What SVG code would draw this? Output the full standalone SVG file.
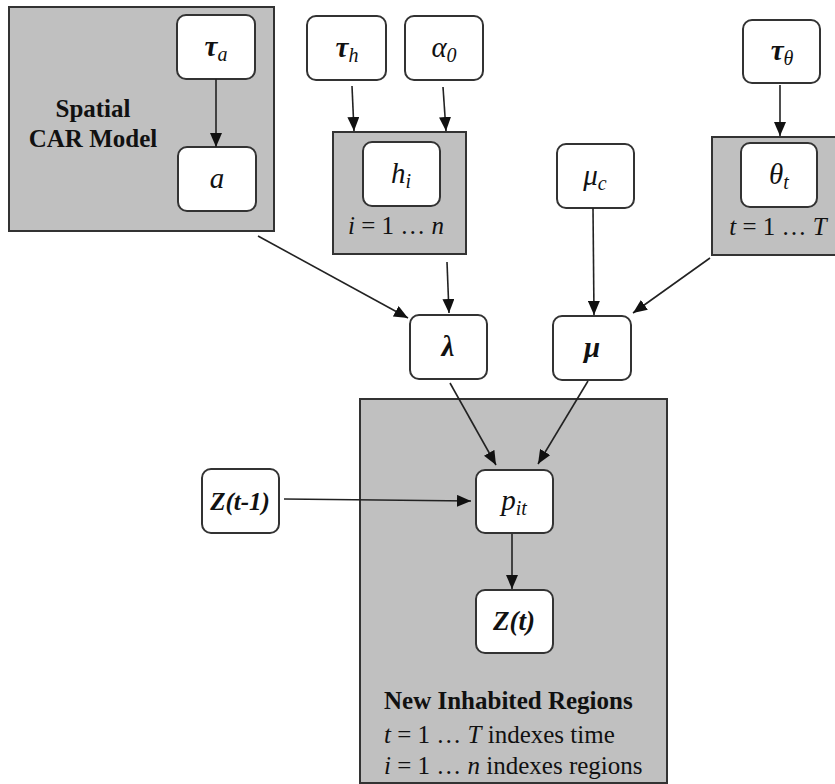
<svg xmlns="http://www.w3.org/2000/svg" width="835" height="784" viewBox="0 0 835 784" font-family="'Liberation Serif', 'DejaVu Serif', serif">
<defs>
<style>
text{font-family:'Liberation Serif','DejaVu Serif',serif}
.plate{fill:#c0c0c0;stroke:#333;stroke-width:2}
.node{fill:#fff;stroke:#333;stroke-width:2}
.lbl{font-size:29px;font-style:italic;fill:#111;text-anchor:middle}
.sub{font-size:20px}
.bi{font-weight:bold}
.pt{font-size:25px;fill:#111}
.hd{font-size:25px;font-weight:bold;fill:#111}
.conn line{stroke:#222;stroke-width:1.6;marker-end:url(#ah)}
</style>
<marker id="ah" markerUnits="userSpaceOnUse" markerWidth="14" markerHeight="12" refX="14" refY="6" orient="auto">
<path d="M0,0 L14,6 L0,12 Z" fill="#111"/>
</marker>
</defs>
<rect width="835" height="784" fill="#fff"/>

<g id="plate-car">
<rect class="plate" x="9" y="7" width="265" height="224"/>
<text class="hd" x="93" y="117" text-anchor="middle">Spatial</text>
<text class="hd" x="93" y="147" text-anchor="middle">CAR Model</text>
</g>
<g id="plate-h">
<rect class="plate" x="333" y="132" width="133" height="122"/>
<text class="pt" x="396" y="234" text-anchor="middle"><tspan font-style="italic">i</tspan> = 1 … <tspan font-style="italic">n</tspan></text>
</g>
<g id="plate-theta">
<rect class="plate" x="712" y="137" width="130" height="118"/>
<text class="pt" x="778" y="235" text-anchor="middle"><tspan font-style="italic">t</tspan> = 1 … <tspan font-style="italic">T</tspan></text>
</g>
<g id="plate-regions">
<rect class="plate" x="360" y="399" width="307" height="384"/>
<text class="hd" x="384" y="709">New Inhabited Regions</text>
<text class="pt" x="384" y="743"><tspan font-style="italic">t</tspan> = 1 … <tspan font-style="italic">T</tspan> indexes time</text>
<text class="pt" x="384" y="774"><tspan font-style="italic">i</tspan> = 1 … <tspan font-style="italic">n</tspan> indexes regions</text>
</g>

<g id="node-tau-a">
<rect class="node" x="177" y="15" width="78" height="64" rx="9"/>
<text class="lbl" x="216" y="56"><tspan class="bi">τ</tspan><tspan class="sub" dy="5">a</tspan></text>
</g>
<g id="node-a">
<rect class="node" x="178" y="147" width="78" height="64" rx="9"/>
<text class="lbl" x="217" y="188">a</text>
</g>
<g id="node-tau-h">
<rect class="node" x="307" y="16" width="79" height="64" rx="9"/>
<text class="lbl" x="347" y="57"><tspan class="bi">τ</tspan><tspan class="sub" dy="5">h</tspan></text>
</g>
<g id="node-alpha0">
<rect class="node" x="405" y="16" width="78" height="64" rx="9"/>
<text class="lbl" x="444" y="57">α<tspan class="sub" dy="5">0</tspan></text>
</g>
<g id="node-h">
<rect class="node" x="363" y="142" width="77" height="64" rx="9"/>
<text class="lbl" x="401" y="183">h<tspan class="sub" dy="5">i</tspan></text>
</g>
<g id="node-tau-theta">
<rect class="node" x="743" y="20" width="77" height="63" rx="9"/>
<text class="lbl" x="782" y="60"><tspan class="bi">τ</tspan><tspan class="sub" dy="5">θ</tspan></text>
</g>
<g id="node-theta">
<rect class="node" x="741" y="143" width="76" height="64" rx="9"/>
<text class="lbl" x="779" y="184">θ<tspan class="sub" dy="5">t</tspan></text>
</g>
<g id="node-mu-c">
<rect class="node" x="557" y="144" width="77" height="64" rx="9"/>
<text class="lbl" x="595" y="185">μ<tspan class="sub" dy="5">c</tspan></text>
</g>
<g id="node-lambda">
<rect class="node" x="410" y="315" width="77" height="64" rx="9"/>
<text class="lbl bi" x="448" y="356">λ</text>
</g>
<g id="node-mu">
<rect class="node" x="553" y="316" width="78" height="64" rx="9"/>
<text class="lbl bi" x="592" y="357">μ</text>
</g>
<g id="node-p">
<rect class="node" x="476" y="470" width="77" height="63" rx="9"/>
<text class="lbl" x="514" y="510">p<tspan class="sub" dy="5">it</tspan></text>
</g>
<g id="node-zt1">
<rect class="node" x="202" y="469" width="77" height="64" rx="9"/>
<text class="lbl bi" x="240" y="510" style="font-size:25px">Z(t-1)</text>
</g>
<g id="node-zt">
<rect class="node" x="476" y="590" width="77" height="63" rx="9"/>
<text class="lbl bi" x="514" y="630" style="font-size:27px">Z(t)</text>
</g>

<g id="connectors" class="conn">
<line x1="216" y1="79" x2="216" y2="147"/>
<line x1="352" y1="86" x2="354" y2="131"/>
<line x1="443" y1="87" x2="446" y2="131"/>
<line x1="780" y1="85" x2="780" y2="136"/>
<line x1="593" y1="208" x2="594" y2="315"/>
<line x1="710" y1="258" x2="633" y2="313"/>
<line x1="258" y1="236" x2="408" y2="318"/>
<line x1="447" y1="262" x2="449" y2="313"/>
<line x1="450" y1="383" x2="496" y2="465"/>
<line x1="588" y1="381" x2="538" y2="464"/>
<line x1="284" y1="499" x2="471" y2="501"/>
<line x1="512" y1="534" x2="512" y2="589"/>
</g>
</svg>
